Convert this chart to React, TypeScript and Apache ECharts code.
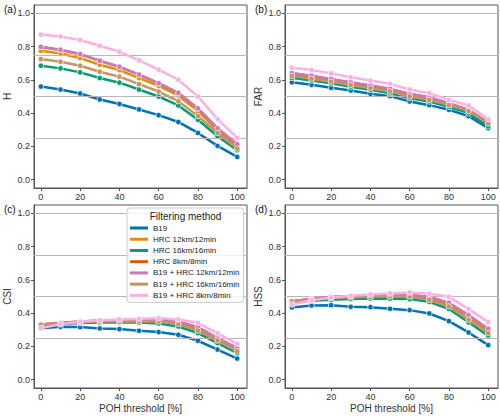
import React, { useEffect, useRef } from "react";
import * as echarts from "echarts";

const xValues = [0, 10, 20, 30, 40, 50, 60, 70, 80, 90, 100];
const xTicks = [0, 20, 40, 60, 80, 100];
const yTicks = [0, 0.2, 0.4, 0.6, 0.8, 1.0];
const refLines = [0.25, 0.5, 0.75, 1.0];

const methods = [
  "B19",
  "HRC 12km/12min",
  "HRC 16km/16min",
  "HRC 8km/8min",
  "B19 + HRC 12km/12min",
  "B19 + HRC 16km/16min",
  "B19 + HRC 8km/8min",
];
const colors = ["#0173b2", "#de8f05", "#029e73", "#d55e00", "#cc78bc", "#ca9161", "#fbafe4"];

// H
const hB19 = [0.56, 0.542, 0.518, 0.482, 0.455, 0.422, 0.388, 0.347, 0.281, 0.203, 0.137];
const hHRC12 = [0.775, 0.759, 0.731, 0.691, 0.659, 0.611, 0.564, 0.506, 0.412, 0.297, 0.203];
const hHRC16 = [0.685, 0.669, 0.645, 0.611, 0.583, 0.542, 0.5, 0.446, 0.36, 0.261, 0.177];
const hHRC8 = [0.798, 0.78, 0.754, 0.714, 0.678, 0.631, 0.579, 0.521, 0.427, 0.308, 0.212];
const hB19HRC12 = [0.799, 0.781, 0.755, 0.715, 0.679, 0.632, 0.58, 0.522, 0.428, 0.309, 0.213];
const hB19HRC16 = [0.725, 0.709, 0.685, 0.649, 0.619, 0.574, 0.53, 0.472, 0.382, 0.281, 0.187];
const hB19HRC8 = [0.872, 0.86, 0.84, 0.805, 0.769, 0.717, 0.661, 0.6, 0.5, 0.364, 0.251];

// FAR
const farB19 = [0.585, 0.57, 0.552, 0.536, 0.516, 0.502, 0.47, 0.448, 0.42, 0.382, 0.31];
const farHRC12 = [0.628, 0.61, 0.592, 0.572, 0.553, 0.533, 0.502, 0.482, 0.45, 0.413, 0.335];
const farHRC16 = [0.612, 0.596, 0.579, 0.559, 0.54, 0.52, 0.49, 0.47, 0.438, 0.4, 0.322];
const farHRC8 = [0.64, 0.624, 0.604, 0.584, 0.565, 0.545, 0.515, 0.495, 0.459, 0.419, 0.344];
const farB19HRC12 = [0.641, 0.625, 0.605, 0.585, 0.566, 0.546, 0.516, 0.496, 0.46, 0.42, 0.345];
const farB19HRC16 = [0.624, 0.606, 0.589, 0.569, 0.55, 0.53, 0.5, 0.48, 0.448, 0.412, 0.338];
const farB19HRC8 = [0.673, 0.659, 0.639, 0.616, 0.596, 0.576, 0.542, 0.52, 0.48, 0.446, 0.363];

// CSI
const csiB19 = [0.309, 0.318, 0.316, 0.308, 0.304, 0.294, 0.286, 0.27, 0.234, 0.181, 0.127];
const csiHRC12 = [0.33, 0.34, 0.347, 0.352, 0.355, 0.355, 0.355, 0.34, 0.3, 0.24, 0.175];
const csiHRC16 = [0.33, 0.335, 0.34, 0.343, 0.345, 0.343, 0.338, 0.32, 0.28, 0.22, 0.16];
const csiHRC8 = [0.331, 0.341, 0.349, 0.354, 0.356, 0.359, 0.361, 0.349, 0.315, 0.249, 0.189];
const csiB19HRC12 = [0.332, 0.342, 0.35, 0.355, 0.357, 0.36, 0.362, 0.35, 0.316, 0.25, 0.19];
const csiB19HRC16 = [0.33, 0.338, 0.345, 0.349, 0.35, 0.35, 0.35, 0.335, 0.295, 0.235, 0.17];
const csiB19HRC8 = [0.31, 0.333, 0.348, 0.357, 0.362, 0.366, 0.37, 0.362, 0.342, 0.278, 0.215];

// HSS
const hssB19 = [0.434, 0.446, 0.448, 0.438, 0.436, 0.426, 0.418, 0.398, 0.352, 0.284, 0.208];
const hssHRC12 = [0.47, 0.483, 0.493, 0.497, 0.5, 0.5, 0.5, 0.485, 0.445, 0.37, 0.29];
const hssHRC16 = [0.465, 0.475, 0.48, 0.485, 0.488, 0.487, 0.485, 0.468, 0.425, 0.345, 0.265];
const hssHRC8 = [0.471, 0.485, 0.497, 0.501, 0.504, 0.507, 0.509, 0.497, 0.461, 0.387, 0.305];
const hssB19HRC12 = [0.472, 0.486, 0.498, 0.502, 0.505, 0.508, 0.51, 0.498, 0.462, 0.388, 0.306];
const hssB19HRC16 = [0.47, 0.48, 0.49, 0.495, 0.498, 0.5, 0.5, 0.48, 0.44, 0.36, 0.28];
const hssB19HRC8 = [0.452, 0.478, 0.494, 0.504, 0.512, 0.518, 0.524, 0.516, 0.498, 0.424, 0.346];

const panels = [
  { label: "(a)", yName: "H", data: [hB19, hHRC12, hHRC16, hHRC8, hB19HRC12, hB19HRC16, hB19HRC8] },
  { label: "(b)", yName: "FAR", data: [farB19, farHRC12, farHRC16, farHRC8, farB19HRC12, farB19HRC16, farB19HRC8] },
  { label: "(c)", yName: "CSI", data: [csiB19, csiHRC12, csiHRC16, csiHRC8, csiB19HRC12, csiB19HRC16, csiB19HRC8] },
  { label: "(d)", yName: "HSS", data: [hssB19, hssHRC12, hssHRC16, hssHRC8, hssB19HRC12, hssB19HRC16, hssB19HRC8] },
];
const xName = "POH threshold [%]";
const legendTitle = "Filtering method";

const FONT = "'Liberation Sans', Arial, sans-serif";
const gridPos = [
  { left: 34, top: 5 },
  { left: 285, top: 5 },
  { left: 34, top: 205 },
  { left: 285, top: 205 },
];
const GW = 213;
const GH = 183;
const FRAME = "#555555";
const TXT = "#333333";

export default function App() {
  const ref = useRef<HTMLDivElement>(null);
  useEffect(() => {
    if (!ref.current) return;
    const chart = echarts.init(ref.current, null, { renderer: "svg" });
    const grid = gridPos.map((g) => ({
      left: g.left,
      top: g.top,
      width: GW,
      height: GH,
      show: true,
      borderColor: FRAME,
      borderWidth: 1,
      backgroundColor: "transparent",
    }));
    const xAxis = panels.map((p, i) => ({
      gridIndex: i,
      type: "value",
      min: -3.5,
      max: 105,
      name: i >= 2 ? xName : "",
      nameLocation: "middle",
      nameGap: 15,
      nameTextStyle: { fontFamily: FONT, fontSize: 10, color: TXT },
      axisLine: { show: true, onZero: false, lineStyle: { color: FRAME, width: 1 } },
      axisTick: { show: true, length: 3, customValues: xTicks, lineStyle: { color: FRAME } },
      axisLabel: { customValues: xTicks, fontFamily: FONT, fontSize: 9, color: TXT, margin: 4 },
      splitLine: { show: false },
    }));
    const yAxis = panels.map((p, i) => ({
      gridIndex: i,
      type: "value",
      min: -0.05,
      max: 1.05,
      name: p.yName,
      nameLocation: "middle",
      nameGap: 22,
      nameTextStyle: { fontFamily: FONT, fontSize: 10, color: TXT },
      axisLine: { show: true, onZero: false, lineStyle: { color: FRAME, width: 1 } },
      axisTick: { show: true, length: 3, customValues: yTicks, lineStyle: { color: FRAME } },
      axisLabel: {
        customValues: yTicks,
        fontFamily: FONT,
        fontSize: 9,
        color: TXT,
        margin: 4,
        formatter: (v: number) => v.toFixed(1),
      },
      splitLine: { show: false },
    }));
    const series: any[] = [];
    panels.forEach((p, i) => {
      series.push({
        type: "line",
        name: "ref" + i,
        xAxisIndex: i,
        yAxisIndex: i,
        data: [],
        z: 1,
        silent: true,
        markLine: {
          silent: true,
          symbol: ["none", "none"],
          label: { show: false },
          lineStyle: { color: "#b8b8b8", width: 1, type: "solid" },
          data: refLines.map((y) => ({ yAxis: y })),
        },
      });
      p.data.forEach((vals, k) => {
        series.push({
          type: "line",
          name: methods[k],
          xAxisIndex: i,
          yAxisIndex: i,
          data: xValues.map((x, j) => [x, vals[j]]),
          color: colors[k],
          lineStyle: { width: 2.5, color: colors[k] },
          symbol: "circle",
          symbolSize: 5.5,
          itemStyle: { color: colors[k], borderColor: "#ffffff", borderWidth: 0.7 },
          z: 2 + k,
        });
      });
    });
    const graphic: any[] = panels.map((p, i) => ({
      type: "text",
      left: gridPos[i].left - 30,
      top: gridPos[i].top - 1,
      z: 100,
      style: { text: p.label, fontFamily: FONT, fontSize: 10, fill: "#111" },
    }));
    graphic.push({
      type: "text",
      x: 185.5,
      y: 216,
      z: 100,
      style: {
        text: legendTitle,
        fontFamily: FONT,
        fontSize: 10,
        fill: "#222",
        align: "center",
        verticalAlign: "middle",
      },
    });
    chart.setOption({
      animation: false,
      grid,
      xAxis,
      yAxis,
      series,
      graphic,
      legend: {
        data: methods.map((m, k) => ({
          name: m,
          icon: "rect",
          itemStyle: { color: colors[k], borderWidth: 0, opacity: 1 },
        })),
        orient: "vertical",
        left: 127,
        top: 208,
        padding: [16, 4, 3, 3],
        itemWidth: 18,
        itemHeight: 3,
        itemGap: 3.23,
        selectedMode: false,
        itemStyle: { borderWidth: 0 },
        lineStyle: { width: 0 },
        textStyle: { fontFamily: FONT, fontSize: 8, color: "#222", lineHeight: 8 },
        backgroundColor: "rgba(255,255,255,0.8)",
        borderColor: "#cccccc",
        borderWidth: 1,
        borderRadius: 3,
        z: 50,
      },
    });
    return () => chart.dispose();
  }, []);
  return (
    <div
      ref={ref}
      style={{ position: "fixed", left: 0, top: 0, width: 500, height: 417, background: "#fff" }}
    />
  );
}
